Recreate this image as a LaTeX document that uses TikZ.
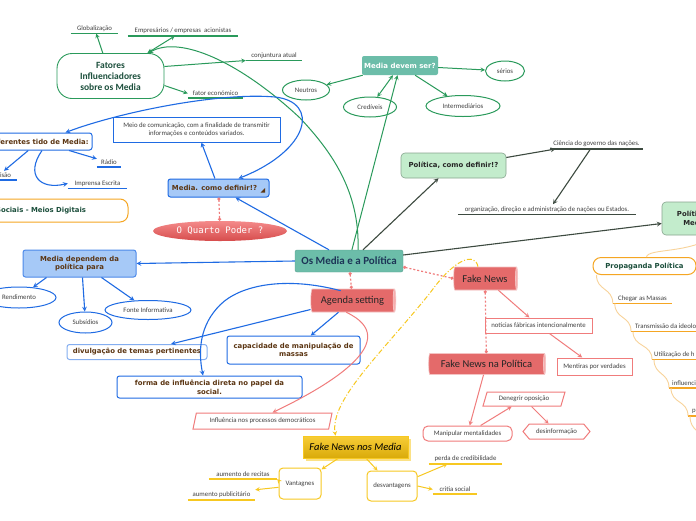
\documentclass[tikz,border=0pt]{standalone}
\usepackage{fontspec}
\setmainfont{Carlito}
\newfontfamily\vsans{DejaVu Sans}
\newfontfamily\qmono{DejaVu Sans Mono}
\usetikzlibrary{shapes.geometric,shapes.symbols,arrows.meta,shadows}

\definecolor{mteal}{HTML}{6CBDA9}
\definecolor{mnavy}{HTML}{1D3557}
\definecolor{mgreen}{HTML}{2A9A5B}
\definecolor{mdkgreen}{HTML}{1C4F3C}
\definecolor{mblue}{HTML}{1F6BE3}
\definecolor{mlblue}{HTML}{A6C9F7}
\definecolor{mbrown}{HTML}{5B3512}
\definecolor{mred}{HTML}{F07C7C}
\definecolor{mcyl}{HTML}{E46A6A}
\definecolor{mredl}{HTML}{F48A8A}
\definecolor{mredd}{HTML}{D64C4C}
\definecolor{myellow}{HTML}{F7C821}
\definecolor{mgold}{HTML}{D9AA0A}
\definecolor{mgray}{HTML}{3D4A40}
\definecolor{mlgreen}{HTML}{C3ECCC}
\definecolor{morange}{HTML}{F5A623}
\definecolor{mpale}{HTML}{F8D39A}

\tikzset{ul/.style={lbl, anchor=south, inner xsep=0pt, inner ysep=2pt,
  append after command={(\tikzlastnode.south west) edge[draw=#1, line width=1.1pt] (\tikzlastnode.south east)}}}

\begin{document}
\begin{tikzpicture}[x=1pt,y=-1pt,>=stealth]
\tikzstyle{lbl}=[font=\fontsize{6.8}{8.3}\selectfont, text=black!75, inner sep=0pt]
\tikzstyle{bold}=[font=\vsans\bfseries\fontsize{6.9}{8.7}\selectfont, text=mbrown, inner sep=0pt, align=center]
\tikzstyle{goval}=[ellipse, draw=mgreen, line width=1pt, fill=white, lbl]
\tikzstyle{boval}=[ellipse, draw=mblue, line width=1pt, fill=white, lbl]
\tikzstyle{bbox}=[rectangle, draw=mblue, line width=1pt, fill=white, rounded corners=2.5pt, bold]
\tikzstyle{rbox}=[rectangle, draw=mred, line width=1pt, fill=white, lbl]
\tikzstyle{ybox}=[rectangle, draw=myellow, line width=1pt, fill=white, rounded corners=4pt, lbl]
\tikzstyle{gbox}=[rectangle, draw=mlgreen!70!black, line width=0.6pt, fill=mlgreen, rounded corners=4pt, bold, text=black!85]
\tikzstyle{cyl}=[cylinder, aspect=0.3, cylinder uses custom fill, cylinder body fill=mcyl, cylinder end fill=mredl!70!white, draw=white!60!mcyl, line width=0.6pt, inner sep=0pt, font=\fontsize{10.5}{12}\selectfont, text=black!85]
\tikzstyle{para}=[trapezium, trapezium left angle=60, trapezium right angle=120, trapezium stretches body, draw=mred, line width=1pt, fill=white, lbl]
\tikzstyle{gline}=[draw=mgreen, line width=1pt]
\tikzstyle{bline}=[draw=mblue, line width=1.1pt]
\tikzstyle{rline}=[draw=mred, line width=1pt]
\tikzstyle{yline}=[draw=myellow, line width=1pt]
\tikzstyle{kline}=[draw=mgray, line width=1.1pt]
\tikzstyle{dotl}=[draw=mred, line width=1.2pt, dash pattern=on 2pt off 2pt, {Circle[length=3pt]}-{Circle[length=3pt]}]
\tikzstyle{wavy}=[draw=mpale, line width=0.9pt]

\useasboundingbox (0,0) rectangle (696,520);
\fill[white] (0,0) rectangle (696,520);

% centre
\node[rectangle, fill=mteal, draw=mteal!85!black, rounded corners=2pt, minimum width=108pt, minimum height=22pt, inner sep=0pt, font=\bfseries\fontsize{11}{12}\selectfont, text=mnavy] (cen) at (349,261) {Os Media e a Política};

% Media devem ser
\node[rectangle, fill=mteal, rounded corners=2pt, minimum width=76pt, minimum height=19pt, inner sep=0pt, font=\vsans\bfseries\fontsize{7}{8}\selectfont, text=white] (dev) at (400,65.5) {Media devem ser?};
\node[goval, minimum width=39pt, minimum height=20pt] (serios) at (505,71) {sérios};
\node[goval, minimum width=47pt, minimum height=20pt] (neut) at (306,90) {Neutros};
\node[goval, minimum width=53pt, minimum height=20pt] (cred) at (370,107) {Credíveis};
\node[goval, minimum width=74pt, minimum height=21pt] (inter) at (463,106) {Intermediários};

% Fatores
\node[rectangle, draw=mgreen, line width=0.9pt, fill=white, rounded corners=15pt, minimum width=107pt, minimum height=45pt, align=center, inner sep=0pt, font=\bfseries\fontsize{9.5}{11}\selectfont, text=mdkgreen] (fat) at (110.5,76) {Fatores\\Influenciadores\\sobre os Media};
\node[ul=mgreen, minimum width=47pt] (glob) at (94.5,33.5) {Globalização};
\node[ul=mgreen, minimum width=110pt] (emp) at (183,36) {Empresários / empresas\ \ acionistas};
\node[ul=mgreen, minimum width=56pt] (conj) at (274,60.5) {conjuntura atual};
\node[ul=mgreen, minimum width=55pt] (econ) at (215.5,98) {fator económico};

% Media como definir
\node[bbox, fill=mlblue, minimum width=101pt, minimum height=18pt] (defn) at (218.5,188) {Media. como definir!?\hspace*{8pt}};
\fill[mbrown] (260.5,192.5) -- (265,192.5) -- (265,188) -- cycle;
\node[rectangle, draw=mblue, line width=1pt, fill=white, minimum width=167pt, minimum height=25pt, lbl, align=center] (meio) at (196.5,129.5) {Meio de comunicação, com a finalidade de transmitir\\informações e conteúdos variados.};
\node[ellipse, top color=mredl, bottom color=mredd, minimum width=134pt, minimum height=20pt, inner sep=0pt, font=\qmono\fontsize{9}{10}\selectfont, text=white] (quarto) at (220,231) {O Quarto Poder ?};
\node[bbox, minimum width=106pt, minimum height=17pt] (dif) at (39,141.5) {Diferentes tido de Media:};
\node[ul=mblue, minimum width=24pt] (radio) at (109,167) {Rádio};
\node[ul=mblue, minimum width=37pt] (tele) at (-1.5,180) {Televisão};
\node[ul=mblue, minimum width=59pt] (impr) at (97.5,188.5) {Imprensa Escrita};
\node[rectangle, draw=morange, line width=1pt, fill=white, rounded corners=8pt, minimum width=200pt, minimum height=23pt, bold, text=mdkgreen] (redes) at (28,210.5) {Redes Sociais - Meios Digitais};

% Media dependem
\node[bbox, fill=mlblue, draw=mblue!80, minimum width=113pt, minimum height=27pt] (mdep) at (79.5,263.5) {Media dependem da\\política para};
\node[boval, minimum width=74pt, minimum height=21pt] (rend) at (19,297.5) {Rendimento};
\node[boval, minimum width=53pt, minimum height=21pt] (subs) at (85.5,322.5) {Subsídios};
\node[boval, minimum width=86pt, minimum height=19pt] (fonte) at (148,310) {Fonte Informativa};

% Agenda setting
\node[cyl, minimum width=23pt, minimum height=85pt] (agenda) at (352.5,300.5) {Agenda setting};
\node[bbox, minimum width=133pt, minimum height=28pt] (capa) at (293.5,350) {capacidade de manipulação de\\massas};
\node[bbox, draw=mblue!55, minimum width=140pt, minimum height=15pt] (divu) at (137,352) {divulgação de temas pertinentes};
\node[bbox, minimum width=185pt, minimum height=22pt] (forma) at (209.5,387) {forma de influência direta no papel da\\social.};
\node[para, minimum width=139pt, minimum height=16pt] (infl) at (262.5,421) {Influência nos processos democráticos};

% Fake News
\node[cyl, minimum width=23pt, minimum height=64pt] (fake) at (485,278.5) {Fake News};
\node[rbox, minimum width=107pt, minimum height=15pt] (noti) at (538.5,325.5) {notícias fábricas intencionalmente};
\node[rbox, minimum width=75pt, minimum height=17pt] (ment) at (594.5,366.5) {Mentiras por verdades};
\node[cyl, minimum width=21pt, minimum height=117pt] (fnp) at (486.5,364) {Fake News na Política};
\node[rbox, rounded corners=5pt, minimum width=89pt, minimum height=15pt] (mani) at (467.5,433.5) {Manipular mentalidades};
\node[para, trapezium left angle=55, trapezium right angle=125, minimum width=82pt, minimum height=14pt] (dene) at (524,399) {Denegrir oposição};
\node[signal, signal to=east and west, signal pointer angle=100, draw=mred, line width=1pt, fill=white, lbl, minimum width=67pt, minimum height=15pt] (desi) at (556.5,431.5) {desinformação};

% Fake News nos Media
\node[rectangle, top color=myellow!90!white, bottom color=mgold, draw=myellow, line width=0.6pt, minimum width=105pt, minimum height=22pt, inner sep=0pt, font=\itshape\fontsize{10.5}{12}\selectfont, text=black, drop shadow={shadow xshift=3pt, shadow yshift=-3pt, fill=myellow!55!white, opacity=1}] (fnm) at (355.5,447) {Fake News nos Media};
\node[ybox, minimum width=42pt, minimum height=31pt] (vant) at (300,483.5) {Vantagnes};
\node[ybox, minimum width=50pt, minimum height=30pt] (desv) at (392,486) {desvantagens};
\node[ul=myellow, minimum width=68pt] (rec) at (243,479) {aumento de recitas};
\node[ul=myellow, minimum width=67pt] (pub) at (221.5,500) {aumento publicitário};
\node[ul=myellow, minimum width=73pt] (credi) at (465.5,464) {perda de credibilidade};
\node[ul=myellow, minimum width=44pt] (crit) at (455,494) {critia social};

% Politica
\node[gbox, minimum width=105pt, minimum height=25pt] (pold) at (453.5,165.5) {Política, como definir!?};
\node[ul=mgray, minimum width=93pt] (cien) at (596.5,149) {Ciência do governo das nações.};
\node[ul=mgray, minimum width=178pt] (orga) at (547,214.5) {organização, direção e administração de nações ou Estados.};
\node[gbox, minimum width=66pt, minimum height=33pt] (pem) at (695,218.5) {Política e\\Media};

% Propaganda
\node[rectangle, draw=morange, line width=1pt, fill=white, rounded corners=8pt, minimum width=103pt, minimum height=17pt, bold, text=mdkgreen] (prop) at (644.5,266) {Propaganda Política};
\node[ul=morange, minimum width=59pt] (cheg) at (642.5,303.5) {Chegar as Massas};
\node[ul=morange, anchor=south west, inner xsep=4pt] (tran) at (631,331.5) {Transmissão da ideologia};
\node[ul=morange, anchor=south west, inner xsep=2pt] (util) at (652,359.5) {Utilização de h};
\node[ul=morange, anchor=south west, inner xsep=3pt] (infc) at (669,388) {influenciar};
\node[ul=morange, anchor=south west, inner xsep=4pt] (pnode) at (688,416) {p};
\coordinate (pend) at (702,444);

% connectors, green
\draw[gline,->] (cen) -- (dev);
\draw[gline,->] ([xshift=9pt]cen.north) .. controls (360,190) and (330,150) .. (300,118) .. controls (240,62) and (180,35) .. ([xshift=-16pt]fat.north east);
\draw[gline,->] (dev) -- (serios);
\draw[gline,->] (dev) -- (neut);
\draw[gline,<->] (dev) -- (cred);
\draw[gline,->] (dev) -- (inter);
\draw[gline,->] (fat) -- (glob);
\draw[gline,<->] (fat) -- (emp);
\draw[gline,->] (fat.10) -- (conj.south west);
\draw[gline,->] (fat.-10) -- (econ.west);

% connectors, blue
\draw[bline,->] (cen) -- (defn);
\draw[bline,->] (defn) -- (meio);
\draw[bline,<->] ([xshift=-27pt]dif.north east) .. controls (120,112) and (220,92) .. (275,97) .. controls (320,102) and (310,150) .. ([xshift=20pt]defn.north);
\draw[bline,->] (dif) -- (radio);
\draw[bline,->] (dif) -- (tele);
\draw[bline,->] ([xshift=3pt]dif.south) .. controls (25,175) and (40,190) .. (impr.west);
\draw[bline,->] (cen.west) -- (mdep.east);
\draw[bline,->] ([xshift=-33pt]mdep.south) -- (rend);
\draw[bline,->] ([xshift=3pt]mdep.south) -- (subs);
\draw[bline,->] ([xshift=22pt]mdep.south) -- (fonte);
\draw[bline,->] (agenda) -- (capa);
\draw[bline,->] ([yshift=-9pt]agenda.west) -- ([xshift=34pt]divu.north);
\draw[bline,->] ([yshift=-2pt]agenda.north west) .. controls (285,276) and (240,285) .. (220,305) .. controls (200,325) and (198,350) .. ([xshift=-6.5pt]forma.north);

% connectors, red
\draw[dotl] (cen) -- (agenda);
\draw[dotl] (defn) -- (quarto);
\draw[dotl] ([yshift=-6pt]cen.east) -- (fake.west);
\draw[dotl] (fake) -- (fnp);
\draw[rline,->] ([xshift=-18pt]agenda.south east) .. controls (405,340) and (330,385) .. ([xshift=10pt]infl.north);
\draw[rline,->] (fake) -- (noti);
\draw[rline,->] (noti) -- (ment);
\draw[rline,->] (fnp) -- (mani);
\draw[rline,->] (mani) -- (dene);
\draw[rline,->] (dene) -- (desi);

% connectors, yellow
\draw[yline, dash pattern=on 5pt off 2pt on 1pt off 2pt, ->] ([xshift=-7pt]fake.north) .. controls (475,252) and (455,258) .. (430,293) .. controls (380,355) and (330,400) .. ([xshift=-20pt]fnm.north);
\draw[yline,->] (fnm) -- (vant);
\draw[yline,->] (fnm) -- (desv);
\draw[yline,->] (vant.172) -- (rec.south east);
\draw[yline,->] (vant.190) -- (pub.north east);
\draw[yline,->] (desv.20) -- ([xshift=-18pt]credi.south);
\draw[yline,->] (desv.east) -- (crit.west);

% connectors, gray
\draw[kline,->] ([xshift=14pt]cen.north) -- ([xshift=-15pt]pold.south);
\draw[kline,->] ([yshift=8pt]pold.east) -- ([xshift=-41pt]cien.south);
\draw[kline,->] ([xshift=-6pt]cien.south) -- ([xshift=6pt]orga.north);
\draw[kline,->] ([yshift=6pt]cen.east) -- ([yshift=-5pt]pem.west);

% connectors, orange
\draw[wavy] ([xshift=2pt]prop.north) .. controls (648,248) and (690,254) .. ([xshift=20pt]pem.south);
\draw[wavy] ([xshift=4pt]prop.south west) .. controls +(0,16) and +(0,-16) .. (cheg.south west);
\draw[wavy] ([xshift=2pt]cheg.south west) .. controls +(0,16) and +(0,-16) .. (tran.south west);
\draw[wavy] ([xshift=2pt]tran.south west) .. controls +(0,16) and +(0,-16) .. (util.south west);
\draw[wavy] ([xshift=2pt]util.south west) .. controls +(0,16) and +(0,-16) .. (infc.south west);
\draw[wavy] ([xshift=2pt]infc.south west) .. controls +(0,16) and +(0,-16) .. (pnode.south west);
\draw[wavy] ([xshift=2pt]pnode.south west) .. controls +(0,16) and +(0,-16) .. (pend);
\end{tikzpicture}
\end{document}
